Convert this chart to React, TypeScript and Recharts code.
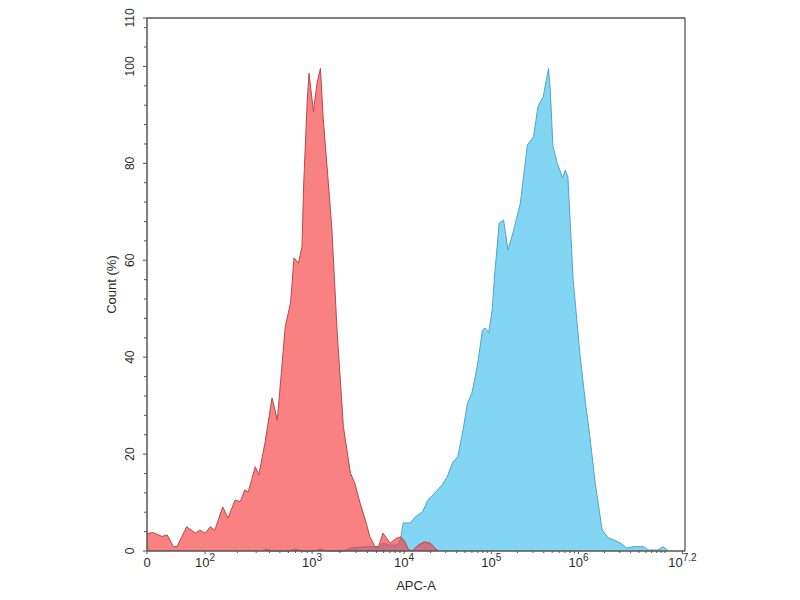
import { AreaChart, Area, XAxis, YAxis, ReferenceLine, Label } from 'recharts';

// x is the display position on the biexponential APC-A axis, in decade units
// (0 = zero, 10^3 at 1.875, one decade per ~1 unit above that)
const redX = [
	0, 0.07, 0.17, 0.23, 0.3, 0.34, 0.45, 0.55, 0.6, 0.66, 0.72, 0.77, 0.86, 0.92,
	1.0, 1.06, 1.11, 1.15, 1.23, 1.27, 1.34, 1.42, 1.48, 1.57, 1.63, 1.67, 1.72,
	1.76, 1.78, 1.82, 1.84, 1.89, 1.93, 1.97, 2.0, 2.06, 2.1, 2.16, 2.23, 2.31,
	2.36, 2.42, 2.48, 2.53, 2.59, 2.63, 2.68, 2.76, 2.83, 2.88, 2.92, 2.97, 3.01,
	3.08, 3.15, 3.22, 3.27, 3.31,
];
const redY = [
	3.6, 3.8, 3.0, 3.3, 0.9, 0.9, 5.0, 3.7, 4.3, 3.7, 5.0, 4.3, 9.1, 6.8, 10.5,
	10.2, 12.6, 12.2, 17.4, 15.7, 22.3, 31.6, 27.0, 46.3, 51.2, 60.5, 59.4, 62.8,
	75.9, 93.0, 98.6, 90.7, 96.5, 99.6, 89.6, 75.9, 66.3, 45.0, 25.7, 16.1, 14.0,
	9.9, 6.4, 3.0, 0.9, 0.9, 3.7, 1.6, 2.6, 2.9, 2.2, 0.3, 0, 1.2, 1.9, 1.6, 0.6,
	0,
];

const blueX = [
	1.31, 1.36, 1.42, 1.6, 1.68, 1.76, 1.9, 1.97, 2.05, 2.23, 2.31, 2.42, 2.51,
	2.59, 2.63, 2.68, 2.76, 2.82, 2.86, 2.88, 2.91, 2.99, 3.05, 3.13, 3.19, 3.27,
	3.35, 3.41, 3.47, 3.53, 3.59, 3.64, 3.69, 3.75, 3.81, 3.84, 3.88, 3.92, 3.95,
	4.0, 4.05, 4.1, 4.16, 4.24, 4.32, 4.35, 4.39, 4.44, 4.5, 4.56, 4.58, 4.61,
	4.66, 4.72, 4.75, 4.78, 4.84, 4.92, 4.98, 5.03, 5.09, 5.17, 5.24, 5.3, 5.38,
	5.45, 5.52, 5.64, 5.69, 5.8, 5.86, 5.92,
];
const blueY = [
	0, 0.4, 0, 0, 0.4, 0, 0, 0.4, 0, 0, 0.6, 0.8, 0.9, 0.8, 0.8, 1.6, 1.2, 1.2,
	1.5, 2.5, 5.8, 5.8, 7.1, 8.1, 10.5, 12.0, 13.6, 15.3, 18.2, 19.5, 25.0, 30.5,
	32.6, 38.0, 45.6, 46.0, 45.0, 49.7, 57.4, 67.7, 68.3, 62.1, 65.9, 71.8, 83.8,
	84.5, 85.5, 91.7, 93.8, 99.6, 95.1, 83.5, 80.0, 77.0, 78.6, 77.2, 55.9, 40.1,
	30.5, 23.6, 14.0, 4.3, 2.7, 2.3, 1.6, 0.6, 0.9, 0.9, 0.2, 0.2, 0.9, 0,
];

const xMajorPos = [0, 0.66, 1.875, 2.92, 3.91, 4.9, 6.08];
const xMajorBase = ['0', '10', '10', '10', '10', '10', '10'];
const xMajorExp = ['', '2', '3', '4', '5', '6', '7.2'];
const xMax = 6.11;

const yMajor = [0, 20, 40, 60, 80, 100, 110];

// minor ticks: log-spaced 2..9 inside each decade from 10^2 upward
const xMinor: number[] = [];
for (let i = 1; i < xMajorPos.length - 1; i++) {
	const a = xMajorPos[i];
	const span = i < xMajorPos.length - 2 ? xMajorPos[i + 1] - a : (xMajorPos[i + 1] - a) / 1.2;
	for (let k = 2; k <= 10; k++) {
		const p = a + span * Math.log10(k);
		if (k === 10 && i !== xMajorPos.length - 2) continue;
		if (p < xMax) xMinor.push(Number(p.toFixed(4)));
	}
}
const xTicks = [...xMajorPos, ...xMinor].sort((a, b) => a - b);

const yTicks: number[] = [];
for (let v = 0; v <= 110; v += 4) if (!yMajor.includes(v)) yTicks.push(v);
yTicks.push(...yMajor);
yTicks.sort((a, b) => a - b);

const allX = Array.from(new Set([...redX, ...blueX])).sort((a, b) => a - b);
const table = allX.map(x => {
	const r = redX.indexOf(x);
	const b = blueX.indexOf(x);
	return { x, red: r >= 0 ? redY[r] : null, blue: b >= 0 ? blueY[b] : null };
});

const font = '"Liberation Sans", Arial, sans-serif';
const axisColor = '#555';
const textColor = '#2a2a2a';

const XTick = (props: any) => {
	const { x, y, payload } = props;
	const i = xMajorPos.indexOf(payload.value);
	if (i < 0) return <line x1={x} x2={x} y1={y} y2={y + 2} stroke={axisColor} />;
	return (
		<g>
			<line x1={x} x2={x} y1={y} y2={y + 3} stroke={axisColor} />
			<text x={x} y={y + 16} textAnchor='middle' fontFamily={font} fontSize={13} fill={textColor}>
				<tspan>{xMajorBase[i]}</tspan>
				{xMajorExp[i] && (
					<tspan dy={-6} fontSize={10}>
						{xMajorExp[i]}
					</tspan>
				)}
			</text>
		</g>
	);
};

const YTick = (props: any) => {
	const { x, y, payload } = props;
	const major = yMajor.includes(payload.value);
	return (
		<g>
			<line x1={x - (major ? 4 : 3)} x2={x} y1={y} y2={y} stroke={axisColor} />
			{major && (
				<text
					x={x - 13}
					y={y}
					transform={`rotate(-90, ${x - 13}, ${y})`}
					textAnchor='middle'
					fontFamily={font}
					fontSize={12}
					fill={textColor}>
					{payload.value}
				</text>
			)}
		</g>
	);
};

export default function App() {
	return (
		<AreaChart
			width={800}
			height={600}
			data={table}
			margin={{ top: 10, right: 123, left: 99, bottom: 12 }}>
			<XAxis
				dataKey='x'
				type='number'
				domain={[0, xMax]}
				ticks={xTicks}
				interval={0}
				tick={<XTick />}
				tickLine={false}
				tickSize={0}
				tickMargin={0}
				height={45}
				axisLine={{ stroke: axisColor, strokeWidth: 1.5 }}>
				<Label
					value='APC-A'
					position='insideBottom'
					offset={6}
					style={{ fontFamily: font, fontSize: 13, fill: textColor }}
				/>
			</XAxis>
			<YAxis
				type='number'
				domain={[0, 110]}
				ticks={yTicks}
				interval={0}
				tick={<YTick />}
				tickLine={false}
				tickSize={0}
				tickMargin={0}
				width={40}
				axisLine={{ stroke: axisColor, strokeWidth: 1.5 }}>
				<Label
					value='Count (%)'
					angle={-90}
					position='center'
					dx={-16}
					style={{ fontFamily: font, fontSize: 13, fill: textColor }}
				/>
			</YAxis>
			<ReferenceLine y={110} stroke={axisColor} strokeWidth={1.3} />
			<ReferenceLine x={xMax} stroke={axisColor} strokeWidth={1.3} />
			<Area
				type='linear'
				dataKey='blue'
				connectNulls
				fill='#82d5f3'
				fillOpacity={1}
				stroke='#4fa6c6'
				strokeWidth={1}
				isAnimationActive={false}
			/>
			<Area
				type='linear'
				dataKey='red'
				connectNulls
				fill='rgb(245,55,57)'
				fillOpacity={0.63}
				stroke='#b8474a'
				strokeWidth={1}
				isAnimationActive={false}
			/>
		</AreaChart>
	);
}
